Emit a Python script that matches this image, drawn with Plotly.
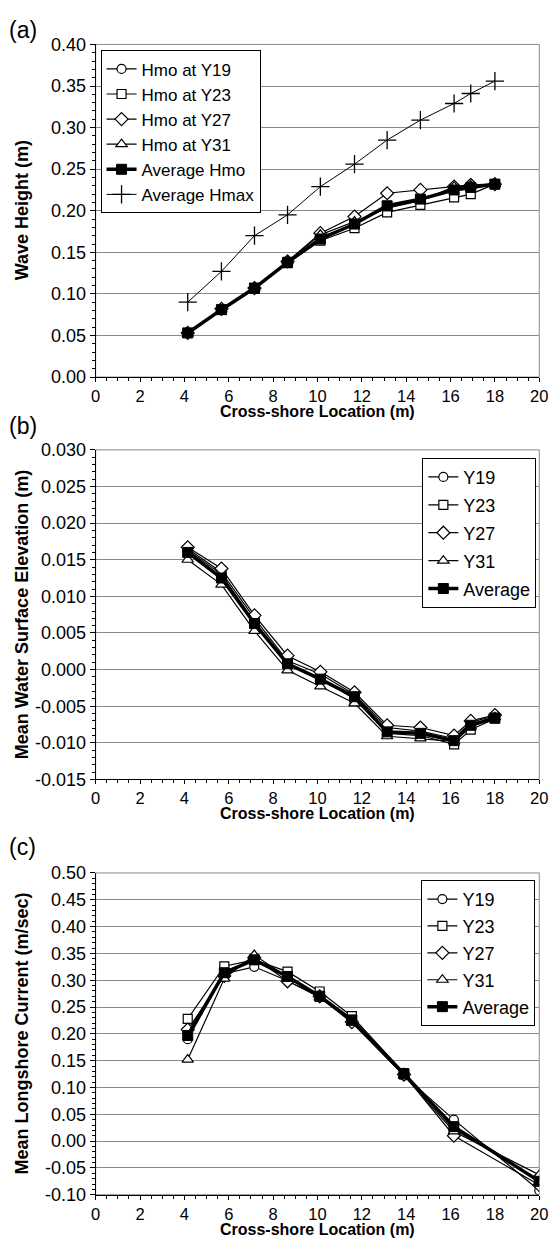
import plotly.graph_objects as go

# ---------------- data ----------------
x_loc = [4.15, 5.67, 7.16, 8.65, 10.13, 11.67, 13.14, 14.64, 16.16, 16.91, 18.0]
hmo_y19 = [0.053, 0.081, 0.107, 0.138, 0.168, 0.184, 0.204, 0.212, 0.226, 0.231, 0.232]
hmo_y23 = [0.053, 0.081, 0.106, 0.137, 0.164, 0.179, 0.198, 0.207, 0.216, 0.220, 0.232]
hmo_y27 = [0.053, 0.082, 0.107, 0.139, 0.173, 0.193, 0.221, 0.225, 0.229, 0.231, 0.232]
hmo_y31 = [0.052, 0.081, 0.107, 0.139, 0.171, 0.187, 0.203, 0.212, 0.229, 0.230, 0.232]
hmo_avg = [0.053, 0.081, 0.107, 0.138, 0.166, 0.184, 0.206, 0.214, 0.225, 0.228, 0.232]
hmax_avg = [0.090, 0.127, 0.170, 0.195, 0.229, 0.256, 0.285, 0.309, 0.329, 0.341, 0.356]

mwl_y19 = [0.0165, 0.0133, 0.0070, 0.0012, -0.0006, -0.0034, -0.0079, -0.0084, -0.0094, -0.0072, -0.0063]
mwl_y23 = [0.0163, 0.0130, 0.0065, 0.0008, -0.0012, -0.0040, -0.0087, -0.0090, -0.0102, -0.0082, -0.0067]
mwl_y27 = [0.0167, 0.0138, 0.0074, 0.0019, -0.0003, -0.0031, -0.0076, -0.0079, -0.0090, -0.0070, -0.0062]
mwl_y31 = [0.0150, 0.0116, 0.0053, -0.0001, -0.0023, -0.0046, -0.0091, -0.0094, -0.0098, -0.0078, -0.0065]
mwl_avg = [0.0160, 0.0125, 0.0063, 0.0008, -0.0013, -0.0037, -0.0085, -0.0087, -0.0097, -0.0076, -0.0066]

x_cur = [4.15, 5.8, 7.15, 8.65, 10.1, 11.55, 13.9, 16.15, 20.0]
v_y19 = [0.190, 0.312, 0.325, 0.299, 0.268, 0.225, 0.122, 0.040, -0.092]
v_y23 = [0.228, 0.326, 0.338, 0.316, 0.279, 0.233, 0.127, 0.022, -0.072]
v_y27 = [0.208, 0.308, 0.342, 0.298, 0.270, 0.222, 0.124, 0.010, -0.082]
v_y31 = [0.152, 0.303, 0.347, 0.305, 0.268, 0.221, 0.122, 0.018, -0.063]
v_avg = [0.197, 0.314, 0.338, 0.307, 0.270, 0.226, 0.125, 0.027, -0.075]

x_tickvals = [0, 2, 4, 6, 8, 10, 12, 14, 16, 18, 20]
x_ticktext = ["0", "2", "4", "6", "8", "10", "12", "14", "16", "18", "20"]
ya_tickvals = [0.0, 0.05, 0.10, 0.15, 0.20, 0.25, 0.30, 0.35, 0.40]
ya_ticktext = ["0.00", "0.05", "0.10", "0.15", "0.20", "0.25", "0.30", "0.35", "0.40"]
yb_tickvals = [-0.015, -0.010, -0.005, 0.0, 0.005, 0.010, 0.015, 0.020, 0.025, 0.030]
yb_ticktext = ["-0.015", "-0.010", "-0.005", "0.000", "0.005", "0.010", "0.015", "0.020", "0.025", "0.030"]
yc_tickvals = [-0.10, -0.05, 0.0, 0.05, 0.10, 0.15, 0.20, 0.25, 0.30, 0.35, 0.40, 0.45, 0.50]
yc_ticktext = ["-0.10", "-0.05", "0.00", "0.05", "0.10", "0.15", "0.20", "0.25", "0.30", "0.35", "0.40", "0.45", "0.50"]

# ---------------- layout geometry ----------------
W, H = 559, 1250
FONT = "Liberation Sans, Arial, Helvetica, sans-serif"
xl, xr = 93.0, 548.0
panels = {
    "a": (35.0, 373.0),
    "b": (447.0, 782.0),
    "c": (877.0, 1204.0),
}
xtitle_y = {"a": 408, "b": 817, "c": 1239}

def ydom(top, bot):
    return [1 - bot / H, 1 - top / H]

xdom = [xl / W, xr / W]

fig = go.Figure()

series_style = [
    dict(symbol="circle", size=9),
    dict(symbol="square", size=9),
    dict(symbol="diamond", size=10),
    dict(symbol="triangle-up", size=10),
]

def add_open(x, y, name, st, xa, ya, leg, group):
    fig.add_trace(go.Scatter(
        x=x, y=y, name=name, mode="lines+markers",
        line=dict(color="black", width=1.2),
        marker=dict(symbol=st["symbol"], size=st["size"], color="white",
                    line=dict(color="black", width=1.2)),
        xaxis=xa, yaxis=ya, legend=leg, legendgroup=group,
    ))

def add_avg(x, y, name, xa, ya, leg, group):
    fig.add_trace(go.Scatter(
        x=x, y=y, name=name, mode="lines+markers",
        line=dict(color="black", width=3.5),
        marker=dict(symbol="square", size=10, color="black",
                    line=dict(color="black", width=1)),
        xaxis=xa, yaxis=ya, legend=leg, legendgroup=group,
    ))

# panel (a)
for y, nm, st in zip([hmo_y19, hmo_y23, hmo_y27, hmo_y31],
                     ["Hmo at Y19", "Hmo at Y23", "Hmo at Y27", "Hmo at Y31"], series_style):
    add_open(x_loc, y, nm, st, "x", "y", "legend", "a" + nm)
add_avg(x_loc, hmo_avg, "Average Hmo", "x", "y", "legend", "aavg")
fig.add_trace(go.Scatter(
    x=x_loc, y=hmax_avg, name="Average Hmax", mode="lines+markers",
    line=dict(color="black", width=1),
    marker=dict(symbol="cross-thin", size=13, color="black",
                line=dict(color="black", width=1.3)),
    xaxis="x", yaxis="y", legend="legend", legendgroup="ahmax",
))

# panel (b)
for y, nm, st in zip([mwl_y19, mwl_y23, mwl_y27, mwl_y31],
                     ["Y19", "Y23", "Y27", "Y31"], series_style):
    add_open(x_loc, y, nm, st, "x2", "y2", "legend2", "b" + nm)
add_avg(x_loc, mwl_avg, "Average", "x2", "y2", "legend2", "bavg")

# panel (c)
for y, nm, st in zip([v_y19, v_y23, v_y27, v_y31],
                     ["Y19", "Y23", "Y27", "Y31"], series_style):
    add_open(x_cur, y, nm, st, "x3", "y3", "legend3", "c" + nm)
add_avg(x_cur, v_avg, "Average", "x3", "y3", "legend3", "cavg")

GRID = "#8a8a8a"

def xaxis_cfg(anchor):
    return dict(
        domain=xdom, anchor=anchor, range=[0, 20],
        tickmode="array", tickvals=x_tickvals, ticktext=x_ticktext,
        showgrid=False, zeroline=False, showline=True, linecolor="black", linewidth=1,
        ticks="outside", ticklen=4, tickcolor="black", tickwidth=1,
        tickfont=dict(size=16.5, color="black", family=FONT),
        minor=dict(tickmode="linear", tick0=0, dtick=0.5, ticks="outside",
                   ticklen=3, tickcolor="black", showgrid=False),
    )

def yaxis_cfg(anchor, dom, rng, tv, tt, mdt):
    return dict(
        domain=dom, anchor=anchor, range=rng,
        tickmode="array", tickvals=tv, ticktext=tt,
        showgrid=True, gridcolor=GRID, gridwidth=1, zeroline=False,
        showline=True, linecolor="black", linewidth=1,
        ticks="outside", ticklen=5, tickcolor="black", tickwidth=1,
        tickfont=dict(size=18, color="black", family=FONT),
        minor=dict(tickmode="linear", tick0=0, dtick=mdt, ticks="outside",
                   ticklen=3, tickcolor="black", showgrid=False),
    )

da = ydom(*panels["a"])
db = ydom(*panels["b"])
dc = ydom(*panels["c"])

legend_common = dict(
    bgcolor="white", bordercolor="black", borderwidth=1,
    yanchor="top", traceorder="grouped", itemwidth=30,
)

fig.update_layout(
    width=W, height=H,
    margin=dict(l=0, r=0, t=0, b=0),
    paper_bgcolor="white", plot_bgcolor="white",
    font=dict(family=FONT, color="black", size=17),
    showlegend=True,
    xaxis=xaxis_cfg("y"),
    yaxis=yaxis_cfg("x", da, [0, 0.40], ya_tickvals, ya_ticktext, 0.01),
    xaxis2=xaxis_cfg("y2"),
    yaxis2=yaxis_cfg("x2", db, [-0.015, 0.030], yb_tickvals, yb_ticktext, 0.001),
    xaxis3=xaxis_cfg("y3"),
    yaxis3=yaxis_cfg("x3", dc, [-0.10, 0.50], yc_tickvals, yc_ticktext, 0.01),
    legend=dict(x=98 / W, y=1 - 41 / H, xanchor="left", tracegroupgap=0,
                font=dict(size=17, color="black", family=FONT), **legend_common),
    legend2=dict(x=545 / W, y=1 - 455 / H, xanchor="right", tracegroupgap=1.5,
                 font=dict(size=18, color="black", family=FONT), **legend_common),
    legend3=dict(x=544 / W, y=1 - 884 / H, xanchor="right", tracegroupgap=0.5,
                 font=dict(size=18, color="black", family=FONT), **legend_common),
)

# gray frame (top / right borders)
for xr_, yr_ in [("x", "y"), ("x2", "y2"), ("x3", "y3")]:
    fig.add_shape(type="rect", xref=f"{xr_} domain", yref=f"{yr_} domain",
                  x0=0, x1=1, y0=0, y1=1, line=dict(color=GRID, width=1), layer="below")

# axis titles and panel labels
xc = (xdom[0] + xdom[1]) / 2
ann = []
for key in ["a", "b", "c"]:
    ann.append(dict(text="<b>Cross-shore Location (m)</b>", x=xc, y=1 - xtitle_y[key] / H,
                    xref="paper", yref="paper", xanchor="center", yanchor="middle",
                    showarrow=False, font=dict(size=16, family=FONT, color="black")))
for title, (top, bot) in [("Wave Height (m)", panels["a"]),
                          ("Mean Water Surface Elevation (m)", panels["b"]),
                          ("Mean Longshore Current (m/sec)", panels["c"])]:
    ann.append(dict(text="<b>" + title + "</b>", x=17 / W, y=1 - (top + bot) / 2 / H,
                    xref="paper", yref="paper", xanchor="center", yanchor="middle",
                    textangle=-90, showarrow=False,
                    font=dict(size=18, family=FONT, color="black")))
for lab, ypix in [("(a)", 20), ("(b)", 423), ("(c)", 851)]:
    ann.append(dict(text=lab, x=2 / W, y=1 - ypix / H, xref="paper", yref="paper",
                    xanchor="left", yanchor="middle", showarrow=False,
                    font=dict(size=23, family=FONT, color="black")))
fig.update_layout(annotations=ann)

fig.write_html("out.html", include_plotlyjs=True, config={"displayModeBar": False})
